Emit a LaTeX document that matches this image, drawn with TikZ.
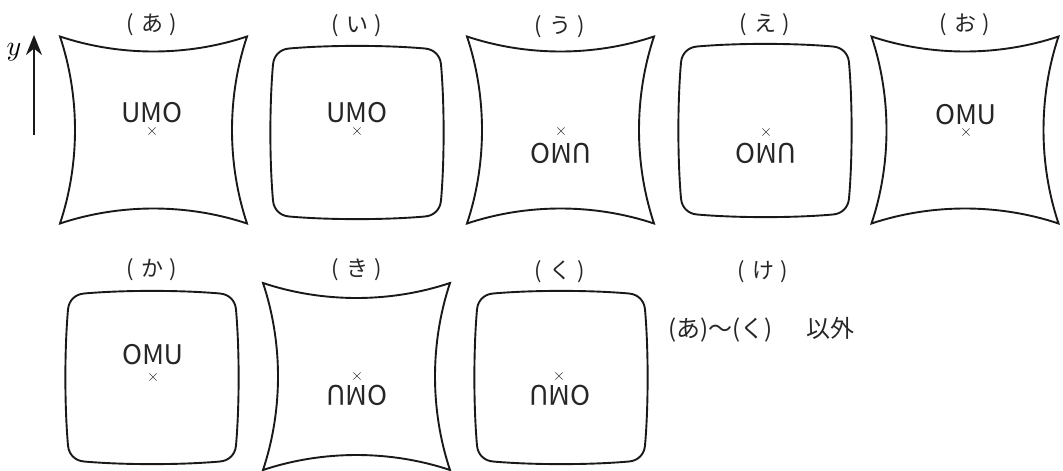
\documentclass[tikz,border=0pt]{standalone}
\usepackage{graphicx}
\usepackage{fontspec}
\setmainfont{Noto Sans CJK JP}
\usetikzlibrary{arrows.meta, shapes.misc}

\tikzset{
  frame/.style={line width=1.9pt, line join=miter, black!90},
  word/.style={font=\fontsize{27}{30}\selectfont, text=black!85},
  tag/.style={font=\fontsize{22}{26}\selectfont, text=black!85},
  crossmark/.style={cross out, draw=black!75, line width=0.6pt, minimum size=6.5pt, inner sep=0pt},
}
\newcommand{\tg}[1]{(\hspace{0.3em}#1\hspace{0.3em})}

\begin{document}
\begin{tikzpicture}[x=1pt, y=1pt]
        \useasboundingbox (0,0) rectangle (1063,-471);

        % y axis
        \coordinate (ybot) at (34,-135);
        \coordinate (ytop) at (34,-35);
        \draw [arrows=-{Stealth[length=20pt,width=16pt]}, line width=2.2pt, black!90] (ybot) -- (ytop);
        \node (ylab) at (14,-52) {\scalebox{2.8}{$y$}};

        % pincushion frames
        \foreach \cx/\cy in {153.5/130, 560.5/130, 965/130, 356.5/376.5} {
          \draw [frame, shift={(\cx,-\cy)}]
            (-93.5,93.5) .. controls (-33.5,73.5) and (33.5,73.5) .. (93.5,93.5)
            .. controls (73.5,33.5) and (73.5,-33.5) .. (93.5,-93.5)
            .. controls (33.5,-73.5) and (-33.5,-73.5) .. (-93.5,-93.5)
            .. controls (-73.5,-33.5) and (-73.5,33.5) .. (-93.5,93.5) -- cycle;
        }

        % barrel frames
        \foreach \cx/\cy in {357/132.5, 765/130.5, 152/377.5, 561/377.5} {
          \draw [frame, shift={(\cx,-\cy)}]
            (-68,84) .. controls (-28,87.5) and (28,87.5) .. (68,84)
            .. controls (77,83.2) and (83.2,77) .. (84,68)
            .. controls (87.5,28) and (87.5,-28) .. (84,-68)
            .. controls (83.2,-77) and (77,-83.2) .. (68,-84)
            .. controls (28,-87.5) and (-28,-87.5) .. (-68,-84)
            .. controls (-77,-83.2) and (-83.2,-77) .. (-84,-68)
            .. controls (-87.5,-28) and (-87.5,28) .. (-84,68)
            .. controls (-83.2,77) and (-77,83.2) .. (-68,84) -- cycle;
        }

        % top row
        \node [tag] (tag-a) at (152,-25) {\tg{あ}};
        \node [word] (w-a) at (152,-113) {UMO};
        \node [crossmark] (c-a) at (152,-131) {};

        \node [tag] (tag-i) at (357,-26) {\tg{い}};
        \node [word] (w-i) at (357,-113) {UMO};
        \node [crossmark] (c-i) at (357,-131) {};

        \node [tag] (tag-u) at (560,-27) {\tg{う}};
        \node [word] (w-u) at (561,-153) {\rotatebox{180}{UMO}};
        \node [crossmark] (c-u) at (561,-131) {};

        \node [tag] (tag-e) at (765,-25) {\tg{え}};
        \node [word] (w-e) at (766,-153) {\rotatebox{180}{UMO}};
        \node [crossmark] (c-e) at (766,-132) {};

        \node [tag] (tag-o) at (965,-25) {\tg{お}};
        \node [word] (w-o) at (966,-115) {\reflectbox{UMO}};
        \node [crossmark] (c-o) at (966,-132) {};

        % bottom row
        \node [tag] (tag-ka) at (152,-270) {\tg{か}};
        \node [word] (w-ka) at (153,-355) {\reflectbox{UMO}};
        \node [crossmark] (c-ka) at (153,-377) {};

        \node [tag] (tag-ki) at (357,-270) {\tg{き}};
        \node [word] (w-ki) at (357,-395) {\scalebox{1}[-1]{UMO}};
        \node [crossmark] (c-ki) at (357,-376) {};

        \node [tag] (tag-ku) at (560,-272) {\tg{く}};
        \node [word] (w-ku) at (560,-395) {\scalebox{1}[-1]{UMO}};
        \node [crossmark] (c-ku) at (559,-376) {};

        \node [tag] (tag-ke) at (763,-272) {\tg{け}};
        \node [tag, anchor=west, font=\fontsize{24}{28}\selectfont] (rest) at (665,-330) {(あ)〜(く)\hspace{1.4em}以外};
      \end{tikzpicture}
\end{document}
